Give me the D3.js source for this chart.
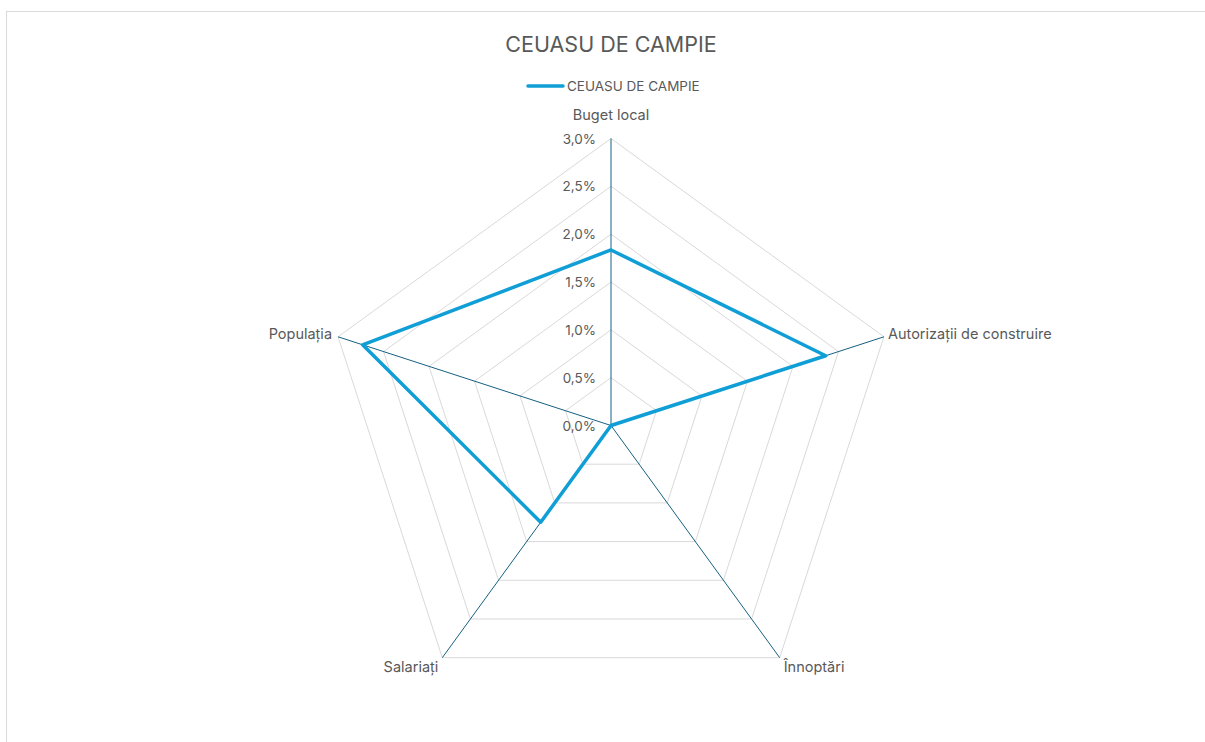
<!DOCTYPE html>
<html>
<head>
<meta charset="utf-8">
<script src="https://cdn.jsdelivr.net/npm/d3@7"></script>
<style>
  body { margin: 0; background: #fff; }
  svg text { font-family: Inter, "Open Sans", sans-serif; fill: #595959; }
</style>
</head>
<body>
<svg id="chart" width="1205" height="742"></svg>
<script>
const title = "CEUASU DE CAMPIE";
const seriesName = "CEUASU DE CAMPIE";
const categories = ["Buget local", "Autorizații de construire", "Înnoptări", "Salariați", "Populația"];
const values = [0.01835, 0.0236, 0.0, 0.0125, 0.0273];
const ticks = [0, 0.005, 0.01, 0.015, 0.02, 0.025, 0.03];

const svg = d3.select("#chart");
const cx = 611, cy = 425.5, radius = 287;

// chart area border
svg.append("rect")
  .attr("x", 6.5).attr("y", 11.5)
  .attr("width", 1300).attr("height", 900)
  .attr("fill", "none")
  .attr("stroke", "#d9d9d9");

const r = d3.scaleLinear().domain([0, 0.03]).range([0, radius]);
const angle = i => i * 2 * Math.PI / categories.length;
const pt = (i, v) => [cx + r(v) * Math.sin(angle(i)), cy - r(v) * Math.cos(angle(i))];

// grid pentagons
const grid = svg.append("g");
ticks.slice(1).forEach(t => {
  grid.append("path")
    .attr("d", d3.line()(categories.map((c, i) => pt(i, t))) + "Z")
    .attr("fill", "none")
    .attr("stroke", "#d9d9d9")
    .attr("stroke-width", 1);
});

// spokes
categories.forEach((c, i) => {
  const [x, y] = pt(i, 0.03);
  svg.append("line")
    .attr("x1", cx).attr("y1", cy)
    .attr("x2", x).attr("y2", y)
    .attr("stroke", "#156082")
    .attr("stroke-width", 1);
});

// tick labels
const fmt = d3.format(".1%");
svg.append("g").selectAll("text")
  .data(ticks)
  .enter()
  .append("text")
  .attr("x", cx - 15)
  .attr("y", d => cy - r(d) + 5)
  .attr("text-anchor", "end")
  .style("font-size", "13.5px")
  .text(d => fmt(d).replace(".", ","));

// category labels
const labelPos = [
  { dx: 0, dy: -19, anchor: "middle" },
  { dx: 4, dy: 2, anchor: "start" },
  { dx: 4, dy: 14, anchor: "start" },
  { dx: -4, dy: 14, anchor: "end" },
  { dx: -6, dy: 2, anchor: "end" }
];
categories.forEach((c, i) => {
  const [x, y] = pt(i, 0.03);
  svg.append("text")
    .attr("x", x + labelPos[i].dx)
    .attr("y", y + labelPos[i].dy)
    .attr("text-anchor", labelPos[i].anchor)
    .style("font-size", "14.5px")
    .text(c);
});

// series
svg.append("path")
  .attr("d", d3.line()(values.map((v, i) => pt(i, v))) + "Z")
  .attr("fill", "none")
  .attr("stroke", "#0f9ed5")
  .attr("stroke-width", 3.5)
  .attr("stroke-linejoin", "round");

// title
svg.append("text")
  .attr("x", cx).attr("y", 52)
  .attr("text-anchor", "middle")
  .style("font-size", "21.5px")
  .text(title);

// legend
svg.append("line")
  .attr("x1", 528).attr("y1", 86)
  .attr("x2", 563).attr("y2", 86)
  .attr("stroke", "#0f9ed5")
  .attr("stroke-width", 3.5)
  .attr("stroke-linecap", "round");
svg.append("text")
  .attr("x", 567).attr("y", 91)
  .style("font-size", "13.5px")
  .text(seriesName);
</script>
</body>
</html>
